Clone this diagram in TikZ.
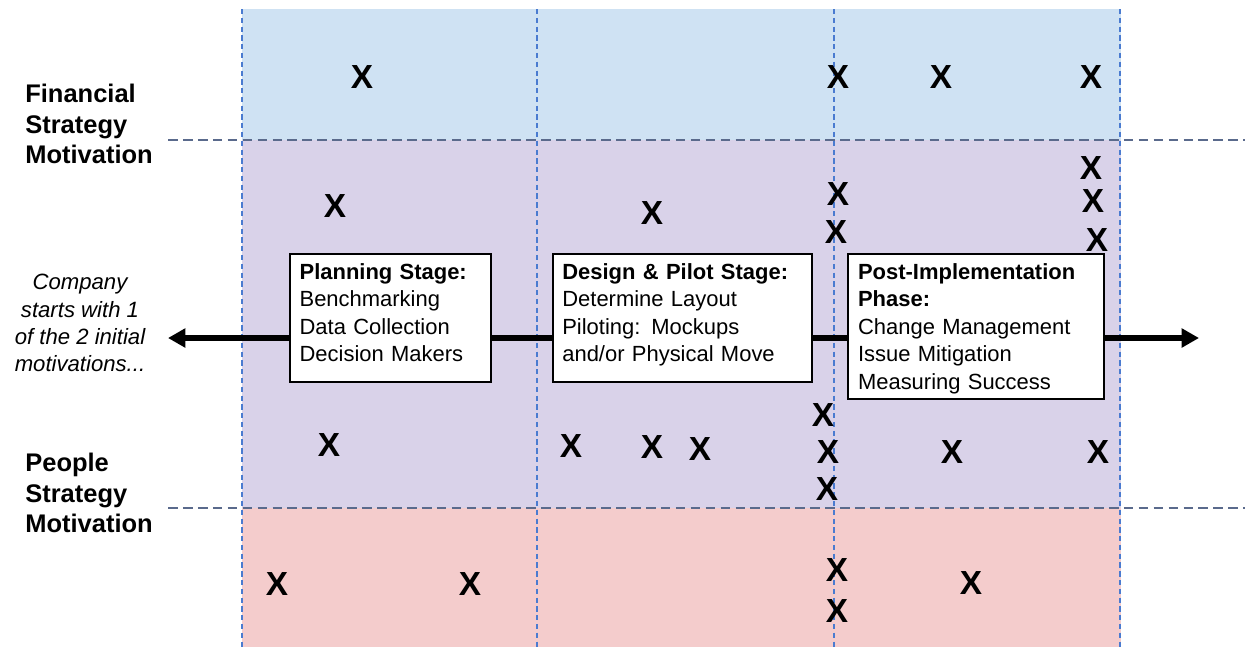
\documentclass[tikz,border=0pt]{standalone}
\usepackage{fontspec}
\setmainfont{Liberation Sans}
\usepackage{tikz}
\usetikzlibrary{arrows.meta}
\definecolor{finblue}{HTML}{CFE2F3}
\definecolor{mixpurple}{HTML}{D9D2E9}
\definecolor{peoplered}{HTML}{F4CCCC}
\definecolor{gridblue}{HTML}{4A7BD0}
\definecolor{bandline}{HTML}{5A6A8C}
\tikzset{
  stagebox/.style={draw,line width=1.1pt,fill=white,align=left,anchor=north west,
    inner xsep=5.5pt,inner ysep=5.5pt,font=\fontsize{12.5}{15.6}\selectfont},
  motive/.style={align=left,anchor=north west,inner sep=0pt,
    font=\fontsize{14.5}{17.3}\selectfont\bfseries},
  note/.style={align=center,anchor=north,inner sep=0pt,
    font=\fontsize{12.6}{15.5}\selectfont\itshape},
  xmark/.style={inner sep=0pt,font=\fontsize{19}{19}\selectfont\bfseries},
  spine/.style={line width=3.2pt},
  spinetip/.style={spine,-{Triangle[length=3.5mm,width=3.7mm]}},
  phase/.style={gridblue,line width=0.6pt,dash pattern=on 3pt off 2pt},
  band/.style={bandline,line width=0.9pt,dash pattern=on 5.5pt off 3pt},
}

\begin{document}
\begin{tikzpicture}[x=0.02cm,y=-0.02cm]
\useasboundingbox (0,0) rectangle (1245,647);
% motivation bands
\fill[finblue] (242,9) rectangle (1121,140);
\fill[mixpurple] (242,140) rectangle (1121,508);
\fill[peoplered] (242,508) rectangle (1121,647);
\foreach \gx in {242,537,834,1120}
  \draw[phase] (\gx,9) -- (\gx,647);
\draw[band] (168,140) -- (1245,140);
\draw[band] (168,508) -- (1245,508);
% stages
\node[stagebox,text width=3.63cm,text depth=53pt] (plan) at (289,253)
  {\textbf{Planning Stage:}\\Benchmarking\\Data Collection\\Decision Makers};
\node[stagebox,text width=4.81cm,text depth=53pt] (design) at ([xshift=1.2cm]plan.north east)
  {\textbf{Design \& Pilot Stage:}\\Determine Layout\\Piloting: Mockups\\and/or Physical Move};
\node[stagebox,text width=4.73cm,text depth=62.5pt] (post) at ([xshift=0.68cm]design.north east)
  {\textbf{Post-Implementation}\\\textbf{Phase:}\\Change Management\\Issue Mitigation\\Measuring Success};
% timeline
\coordinate (tailL) at (168,338);
\coordinate (tipR) at (1199,338);
\draw[spinetip] (plan.west |- tailL) -- (tailL);
\draw[spine] (plan.east |- tailL) -- (design.west |- tailL);
\draw[spine] (design.east |- tailL) -- (post.west |- tailL);
\draw[spinetip] (post.east |- tailL) -- (tipR);
% side labels
\node[motive] (fin) at (25,84) {Financial\\Strategy\\Motivation};
\node[motive] (ppl) at (25,453) {People\\Strategy\\Motivation};
\node[note] (start) at (80,274) {Company\\starts with 1\\of the 2 initial\\motivations...};
% marks
\foreach \px/\py [count=\i] in {362/77,838/77,941/77,1091/77,
    335/206,652/213,838/194,836/232,1091/168,1093/201,1097/240,
    329/445,571/446,652/447,700/449,823/415,828/452,827/489,952/452,1098/452,
    277/584,470/584,837/570,837/611,971/583}
  \node[xmark] (x\i) at (\px,\py) {X};
\end{tikzpicture}
\end{document}
